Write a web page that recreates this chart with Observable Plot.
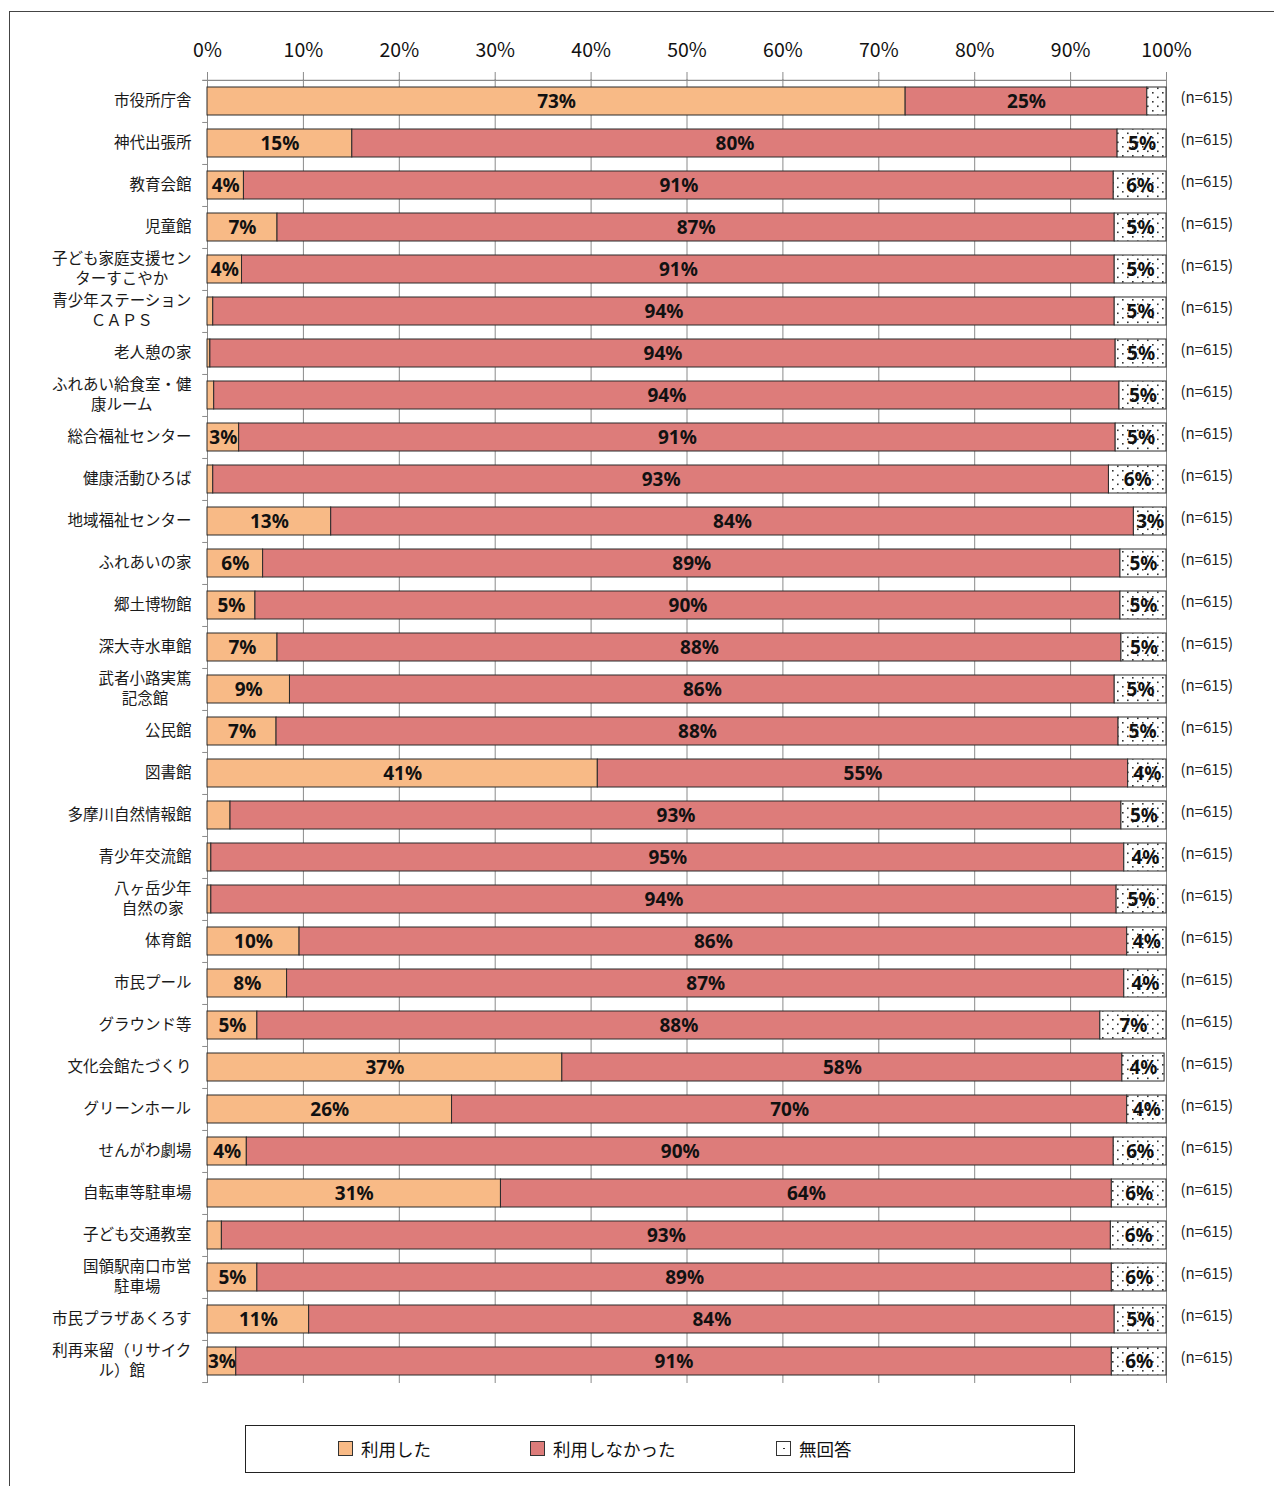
<!DOCTYPE html>
<html><head><meta charset="utf-8">
<script src="https://cdn.jsdelivr.net/npm/d3@7"></script>
<script src="https://cdn.jsdelivr.net/npm/@observablehq/plot@0.6"></script>
<style>
html,body{margin:0;padding:0;background:#fff;}
body{width:1274px;height:1486px;position:relative;overflow:hidden;font-family:"Noto Sans CJK JP","Noto Sans",sans-serif;}
#frame{position:absolute;left:9px;top:11px;width:1400px;height:1600px;border:1.5px solid #444;box-sizing:border-box;}
#chart{position:absolute;left:0;top:0;}
#legend{position:absolute;left:245px;top:1425px;width:830px;height:48px;border:1px solid #222;box-sizing:border-box;background:#fff;font-size:17.5px;color:#111;}
.li{position:absolute;top:11px;display:flex;align-items:center;height:22px;}
.sw{width:15px;height:15px;border:1px solid #333;box-sizing:border-box;margin-right:8px;}
</style></head>
<body>
<div id="frame"></div>
<div id="chart"></div>
<div id="legend">
  <div class="li" style="left:92px"><div class="sw" style="background:#F8BA86"></div>利用した</div>
  <div class="li" style="left:284px"><div class="sw" style="background:#DD7C7A"></div>利用しなかった</div>
  <div class="li" style="left:530px"><div class="sw" style="background:#fff;position:relative"><span style="position:absolute;left:6px;top:6px;width:1.5px;height:1.5px;background:#333"></span></div>無回答</div>
</div>
<script>
const categories = [
  "市役所庁舎","神代出張所","教育会館","児童館","子ども家庭支援セン\nターすこやか",
  "青少年ステーション\nＣＡＰＳ","老人憩の家","ふれあい給食室・健\n康ルーム","総合福祉センター","健康活動ひろば",
  "地域福祉センター","ふれあいの家","郷土博物館","深大寺水車館","武者小路実篤\n記念館",
  "公民館","図書館","多摩川自然情報館","青少年交流館","八ヶ岳少年\n自然の家",
  "体育館","市民プール","グラウンド等","文化会館たづくり","グリーンホール",
  "せんがわ劇場","自転車等駐車場","子ども交通教室","国領駅南口市営\n駐車場","市民プラザあくろす",
  "利再来留（リサイク\nル）館"
];
const used    = [72.8,15.1,3.8,7.3,3.6, 0.6,0.3,0.7,3.3,0.6, 12.9,5.8,5.0,7.3,8.6, 7.2,40.7,2.4,0.4,0.4, 9.6,8.3,5.2,37.0,25.5, 4.1,30.6,1.5,5.2,10.6, 3.0];
const notUsed = [25.2,79.8,90.7,87.3,91.0, 94.0,94.4,94.4,91.4,93.4, 83.7,89.4,90.2,88.0,86.0, 87.8,55.3,92.9,95.2,94.4, 86.3,87.3,87.9,58.4,70.4, 90.4,63.7,92.7,89.1,84.0, 91.3];
const noAnswer= [2.0,5.1,5.5,5.4,5.4, 5.4,5.3,4.9,5.3,6.0, 3.4,4.8,4.8,4.7,5.4, 5.0,4.0,4.7,4.4,5.2, 4.1,4.4,6.9,4.4,4.1, 5.5,5.7,5.8,5.7,5.4, 5.7];
const seriesNames = ["利用した","利用しなかった","無回答"];
const seriesColors = ["#F8BA86","#DD7C7A","url(#dots)"];
const xTicks = [0,10,20,30,40,50,60,70,80,90,100];
const nLabel = "(n=615)";

const W = 1274, H = 1400, mL = 207, mR = 108, mT = 79, mB = 17;
const table = [];
categories.forEach((c,i)=>{
  [used[i],notUsed[i],noAnswer[i]].forEach((v,k)=>table.push({cat:c, series:seriesNames[k], value:v}));
});

const LABEL_FS = 15.5;
const ctx = document.createElement("canvas").getContext("2d");
ctx.font = LABEL_FS + 'px "Noto Sans CJK JP"';
const pxPerUnit = (W - mL - mR) / 100;
const catLabels = categories.map(c=>{
  const first = c.split("\n")[0];
  const w = ctx.measureText(first).width;
  return {cat:c, x: -(16 + w/2)/pxPerUnit};
});

const step = (H - mT - mB) / categories.length;

const plot = Plot.plot({
  width: W, height: H,
  marginLeft: mL, marginRight: mR, marginTop: mT, marginBottom: mB,
  style: {fontFamily: '"Noto Sans CJK JP","Noto Sans",sans-serif', background: "transparent", overflow: "visible"},
  x: {domain:[0,100], ticks: xTicks, tickFormat: d=>d+"%"},
  y: {domain: categories, paddingInner: 0.333, paddingOuter: 0.1667, axis: null},
  color: {domain: seriesNames, range: seriesColors},
  marks: [
    Plot.gridX(xTicks, {stroke:"#8a8a8a", strokeOpacity:1, strokeWidth:1}),
    Plot.axisX(xTicks, {anchor:"top", tickSize:8, tickPadding:15, fontSize:19.5, stroke:"#8a8a8a", fill:"#111", label:null, tickFormat:d=>d+"%"}),
    Plot.ruleX([0], {stroke:"#8a8a8a", strokeWidth:1}),
    Plot.ruleY([categories[0]], {x1: ()=>-0.5, x2: ()=>100, dy: -step/2, stroke:"#8a8a8a", strokeWidth:1.2}),
    Plot.ruleY(categories.slice(1), {x1: ()=>-0.5, x2: ()=>0, dy: -step/2, stroke:"#8a8a8a"}),
    Plot.ruleY([categories[categories.length-1]], {x1: ()=>-0.5, x2: ()=>0, dy: step/2, stroke:"#8a8a8a"}),
    Plot.barX(table, Plot.stackX({x:"value", y:"cat", fill:"series", stroke:"#2a2a2a", strokeWidth:1, order: seriesNames})),
    Plot.text(table, Plot.stackX({x:"value", y:"cat", z:"series", order: seriesNames,
      text: d => Math.round(d.value) >= 3 || d.series === "利用しなかった" ? Math.round(d.value)+"%" : "",
      fontSize:19, fontWeight:"bold", fill:"#111", fontFamily:'"Noto Sans","Liberation Sans",sans-serif', dy:0})),
    Plot.text(catLabels, {x:"x", y:"cat", text:"cat", textAnchor:"middle", lineAnchor:"middle", fontSize:LABEL_FS, lineHeight:1.3, fill:"#1a1a1a", dy:-2}),
    Plot.text(categories, {x: ()=>100, y: d=>d, text: ()=>nLabel, textAnchor:"start", dx:14, dy:-3, fontSize:15, fill:"#222"})
  ]
});
plot.insertAdjacentHTML("afterbegin",
  `<defs><pattern id="dots" width="10" height="9" patternUnits="userSpaceOnUse">
     <rect width="10" height="9" fill="#fff"/>
     <rect x="2" y="2" width="1.6" height="1.6" fill="#333"/>
     <rect x="7" y="6.5" width="1.6" height="1.6" fill="#333"/>
   </pattern></defs>`);
document.getElementById("chart").appendChild(plot);
</script>
</body></html>
